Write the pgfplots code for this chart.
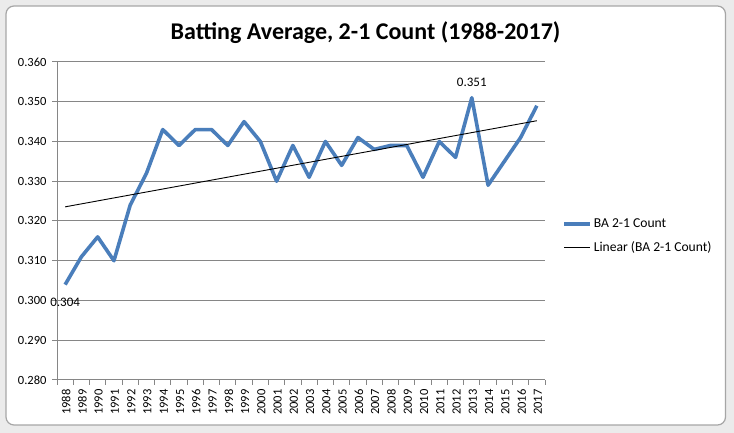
\documentclass[border=0pt]{standalone}
\usepackage{pgfplots}
\usepackage{pgfplotstable}
\pgfplotsset{compat=1.18}
\usepackage{fontspec}
\setmainfont{Carlito}
\definecolor{serblue}{HTML}{4A7EBB}
\definecolor{gridgray}{HTML}{868686}
\definecolor{sheet}{HTML}{EBEBEB}
\definecolor{frame}{HTML}{A6A6A6}
\pgfplotstableread{
idx year ba
0 1988 0.304
1 1989 0.311
2 1990 0.316
3 1991 0.310
4 1992 0.324
5 1993 0.332
6 1994 0.343
7 1995 0.339
8 1996 0.343
9 1997 0.343
10 1998 0.339
11 1999 0.345
12 2000 0.340
13 2001 0.330
14 2002 0.339
15 2003 0.331
16 2004 0.340
17 2005 0.334
18 2006 0.341
19 2007 0.338
20 2008 0.339
21 2009 0.339
22 2010 0.331
23 2011 0.340
24 2012 0.336
25 2013 0.351
26 2014 0.329
27 2015 0.335
28 2016 0.341
29 2017 0.349
}\data
\begin{document}
\begin{tikzpicture}[x=1bp,y=1bp]
\useasboundingbox (0,0) rectangle (734,433);
\fill[sheet] (0,0) rectangle (734,433);
\draw[frame, line width=1.2bp, fill=white, rounded corners=8bp] (6,8) rectangle (725.5,427);
\node[font=\fontsize{24bp}{28bp}\selectfont\bfseries, anchor=base] at (365.5,433-40) {Batting Average, 2-1 Count (1988-2017)};
\begin{axis}[
  at={(57bp,53bp)}, anchor=south west,
  scale only axis, width=488bp, height=318bp,
  xmin=1987.5, xmax=2017.5,
  ymin=0.28, ymax=0.36,
  ytick={0.28,0.29,...,0.365},
  xtick={1987.5,1988.5,...,2017.6},
  x tick label as interval,
  xticklabels={1988,1989,1990,1991,1992,1993,1994,1995,1996,1997,1998,1999,2000,2001,2002,2003,2004,2005,2006,2007,2008,2009,2010,2011,2012,2013,2014,2015,2016,2017},
  axis x line*=bottom, axis y line*=left,
  axis line style={gridgray, line width=1bp},
  every tick/.style={gridgray, line width=1bp},
  tick align=outside, major tick length=5bp,
  ymajorgrids, grid style={gridgray, line width=1bp},
  yticklabel style={/pgf/number format/.cd, fixed, fixed zerofill, precision=3, /tikz/.cd, font=\fontsize{12.5bp}{15bp}\selectfont, xshift=-2bp},
  xticklabel style={rotate=90, anchor=east, font=\fontsize{12.5bp}{15bp}\selectfont, yshift=-1bp, xshift=-1bp},
  /pgf/number format/assume math mode=true,
  legend style={at={(1.035,0.453)}, anchor=west, draw=none, fill=none, font=\fontsize{13.6bp}{15bp}\selectfont, row sep=8bp, inner sep=0pt, cells={anchor=west}},
  legend cell align=left,
  legend image code/.code={\draw[#1] (0bp,0bp) -- (26bp,0bp);},
  clip=false,
]
\addplot[serblue, line width=3.6bp, line join=round] table[x=year,y=ba] {\data};
\addlegendentry{BA 2-1 Count}
\addplot[black, line width=0.9bp] table[x=year, y={create col/linear regression={x=idx,y=ba}}] {\data};
\addlegendentry{Linear (BA 2-1 Count)}
\addplot[draw=none, forget plot, nodes near coords, point meta=explicit symbolic,
  nodes near coords style={font=\fontsize{13bp}{15bp}\selectfont, text=black, anchor=south, yshift=8bp}]
  coordinates {(2013,0.351) [0.351]};
\addplot[draw=none, forget plot, nodes near coords, point meta=explicit symbolic,
  nodes near coords style={font=\fontsize{13bp}{15bp}\selectfont, text=black, anchor=north, yshift=-10bp}]
  coordinates {(1988,0.304) [0.304]};
\end{axis}
\end{tikzpicture}
\end{document}
